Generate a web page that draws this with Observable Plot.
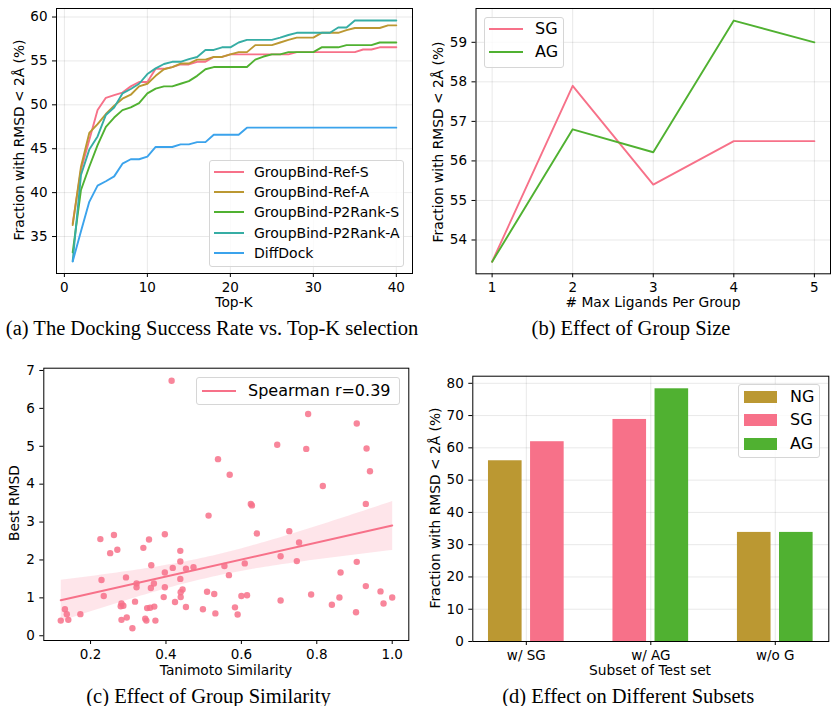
<!DOCTYPE html>
<html><head><meta charset="utf-8">
<script src="https://cdn.jsdelivr.net/npm/d3@7"></script>
<script src="https://cdn.jsdelivr.net/npm/@observablehq/plot@0.6"></script>
<style>
body{margin:0;background:#fff;}
#fig{position:relative;width:831px;height:706px;overflow:hidden;font-family:"DejaVu Sans",sans-serif;color:#000;background:#fff;}
.abs{position:absolute;white-space:nowrap;line-height:1;}
.cap{font-family:"Liberation Serif",serif;font-size:20.5px;}
.lab{font-size:13.8px;}
.leg{position:absolute;border:1px solid #d6d6d6;border-radius:3px;background:rgba(255,255,255,0.8);box-sizing:border-box;}
</style></head><body><div id="fig"></div>
<script>
// ---------- data: panel (a) ----------
const topK = [1,2,3,4,5,6,7,8,9,10,11,12,13,14,15,16,17,18,19,20,21,22,23,24,25,26,27,28,29,30,31,32,33,34,35,36,37,38,39,40];
const seriesNames = ["GroupBind-Ref-S","GroupBind-Ref-A","GroupBind-P2Rank-S","GroupBind-P2Rank-A","DiffDock"];
const seriesColors = ["#f77189","#bb9832","#50b131","#36ada4","#3ba3ec"];
const refS = [36.5,42.6,46.0,49.4,50.8,51.1,51.4,52.1,52.6,52.6,54.1,54.1,54.3,54.6,54.6,54.9,54.9,55.45,55.45,55.75,55.75,55.75,55.75,55.75,55.75,55.75,55.75,56.0,56.0,56.0,56.0,56.0,56.0,56.0,56.0,56.3,56.3,56.55,56.55,56.55];
const refA = [36.3,42.95,46.8,47.8,48.95,49.9,50.7,51.15,52.1,52.4,53.3,54.05,54.3,54.7,54.7,55.15,55.15,55.45,55.45,55.75,56.0,56.0,56.8,56.8,56.8,57.1,57.4,57.65,57.65,57.65,58.2,58.2,58.2,58.5,58.75,58.75,58.75,58.75,59.05,59.05];
const p2rankS = [33.2,40.3,42.95,45.4,47.5,48.55,49.4,49.7,50.2,51.3,51.85,52.1,52.1,52.4,52.7,53.3,54.05,54.3,54.3,54.3,54.3,54.3,55.15,55.5,55.75,55.75,56.0,56.0,56.0,56.0,56.55,56.55,56.55,56.8,56.8,56.8,56.8,57.1,57.1,57.1];
const p2rankA = [32.2,42.0,44.9,46.4,48.85,49.7,51.3,51.8,52.4,53.5,54.15,54.65,54.9,54.9,55.2,55.45,56.25,56.25,56.55,56.55,57.1,57.4,57.4,57.4,57.4,57.65,57.95,58.2,58.2,58.2,58.2,58.2,58.8,58.8,59.6,59.6,59.6,59.6,59.6,59.6];
const diffDock = [32.16,35.6,38.95,40.8,41.3,41.85,43.3,43.8,43.8,44.1,45.2,45.2,45.2,45.5,45.5,45.75,45.75,46.6,46.6,46.6,46.6,47.4,47.4,47.4,47.4,47.4,47.4,47.4,47.4,47.4,47.4,47.4,47.4,47.4,47.4,47.4,47.4,47.4,47.4,47.4];
const aXTicks = [0,10,20,30,40];
const aYTicks = [35,40,45,50,55,60];

// ---------- data: panel (b) ----------
const groupSizes = [1,2,3,4,5];
const sgValues = [53.45,57.9,55.4,56.5,56.5];
const agValues = [53.45,56.8,56.22,59.55,59.0];
const bYTicks = [54,55,56,57,58,59];

// ---------- data: panel (c) ----------
const tanimoto = [0.415,0.777,0.906,0.695,0.772,0.932,0.538,0.941,0.569,0.816,0.625,0.628,0.930,0.513,0.641,0.727,0.753,0.226,0.262,0.252,0.271,0.340,0.355,0.397,0.438,0.438,0.361,0.397,0.418,0.453,0.473,0.438,0.555,0.567,0.609,0.704,0.747,0.906,0.863,0.229,0.235,0.294,0.322,0.322,0.368,0.360,0.397,0.444,0.439,0.439,0.394,0.424,0.453,0.318,0.282,0.280,0.287,0.350,0.358,0.369,0.132,0.137,0.141,0.121,0.173,0.282,0.296,0.311,0.345,0.348,0.372,0.509,0.528,0.498,0.531,0.583,0.590,0.600,0.615,0.704,0.785,0.840,0.860,0.904,0.930,0.969,0.977,1.000];
const bestRmsd = [6.73,5.85,5.60,5.04,4.93,4.94,4.66,4.34,4.25,3.95,3.48,3.44,3.48,3.17,2.70,2.76,2.46,2.55,2.66,2.18,2.27,2.32,2.54,2.68,2.24,1.96,1.86,1.67,1.79,1.77,1.81,1.50,1.84,1.60,1.91,2.10,1.97,1.95,1.67,1.47,1.05,1.54,1.38,1.28,1.38,1.26,1.28,1.22,1.15,1.02,1.02,0.89,0.76,0.90,0.85,0.78,0.79,0.73,0.74,0.77,0.70,0.57,0.42,0.40,0.57,0.42,0.48,0.20,0.45,0.40,0.40,1.16,1.10,0.70,0.59,0.75,0.56,1.05,1.07,0.93,1.09,0.82,1.01,0.62,1.31,1.17,0.85,1.01];
const cXTicks = [0.2,0.4,0.6,0.8,1.0];
const cYTicks = [0,1,2,3,4,5,6,7];

// ---------- data: panel (d) ----------
const subsets = ["w/ SG","w/ AG","w/o G"];
const subsetHues = [["NG","SG"],["SG","AG"],["NG","AG"]];
const subsetValues = [[56.0,61.9],[68.8,78.3],[33.8,33.8]];
const hueNames = ["NG","SG","AG"];
const hueColors = ["#bb9832","#f77189","#50b131"];
const dYTicks = [0,10,20,30,40,50,60,70,80];

// ---------- helpers ----------
const fig = document.getElementById("fig");
const TICK_FS = 13.5;
const baseStyle = {fontFamily:"DejaVu Sans", fontSize:TICK_FS+"px", background:"transparent", overflow:"visible", color:"black"};
const gridStyle = {stroke:"#000", strokeOpacity:0.09, strokeWidth:1};
const intFmt = d => String(d);
function mount(svg, x, y){ svg.style.position="absolute"; svg.style.left=x+"px"; svg.style.top=y+"px"; fig.appendChild(svg); }
function label(str, cx, cy, cls, rot){
  const d=document.createElement("div"); d.className="abs "+cls; d.textContent=str;
  d.style.left=cx+"px"; d.style.top=cy+"px";
  d.style.transform="translate(-50%,-50%)"+(rot?" rotate(-90deg)":"");
  fig.appendChild(d);
}
function legend(box, items, opts){
  const b=document.createElement("div"); b.className="leg";
  Object.assign(b.style,{left:box[0]+"px",top:box[1]+"px",width:(box[2]-box[0])+"px",height:(box[3]-box[1])+"px"});
  fig.appendChild(b);
  items.forEach((it,i)=>{
    const cy=opts.rows[i];
    const h=document.createElement("div");
    const hh = opts.patch ? 12 : 2;
    Object.assign(h.style,{position:"absolute",left:opts.hx[0]+"px",width:(opts.hx[1]-opts.hx[0])+"px",top:(cy-hh/2)+"px",height:hh+"px",background:it.color});
    fig.appendChild(h);
    const t=document.createElement("div"); t.className="abs"; t.textContent=it.name;
    Object.assign(t.style,{left:opts.tx+"px",top:cy+"px",fontSize:opts.fs+"px",transform:"translateY(-50%)"});
    fig.appendChild(t);
  });
}
const ax = (o) => Plot.axisX({tickSize:4, label:null, fontSize:TICK_FS, tickFormat:intFmt, ...o});
const ay = (o) => Plot.axisY({tickSize:4, label:null, fontSize:TICK_FS, tickFormat:intFmt, ...o});

// ---------- panel (a) ----------
const aRows = [];
[refS,refA,p2rankS,p2rankA,diffDock].forEach((arr,si)=>arr.forEach((v,i)=>aRows.push({k:topK[i], v, s:seriesNames[si]})));
mount(Plot.plot({
  width:415, height:315, marginLeft:56, marginRight:3, marginTop:8, marginBottom:42,
  style:baseStyle,
  x:{domain:[-0.95,41.95]}, y:{domain:[30.79,60.97]},
  color:{domain:seriesNames, range:seriesColors},
  marks:[
    Plot.gridX({ticks:aXTicks, ...gridStyle}),
    Plot.gridY({ticks:aYTicks, ...gridStyle}),
    Plot.line(aRows,{x:"k", y:"v", z:"s", stroke:"s", strokeWidth:1.9}),
    ax({ticks:aXTicks}),
    ay({ticks:aYTicks}),
    Plot.frame({stroke:"black"})
  ]
}), 0, 0);
label("Top-K", 234, 303, "lab");
label("Fraction with RMSD < 2Å (%)", 20, 140, "lab", true);
label("(a) The Docking Success Rate vs. Top-K selection", 212, 328, "cap");
legend([209,160,404,267], seriesNames.map((n,i)=>({name:n,color:seriesColors[i]})), {rows:[171.7,192,212.3,232.7,253.3], hx:[214,244], tx:254, fs:14});

// ---------- panel (b) ----------
const bRows = [];
groupSizes.forEach((g,i)=>bRows.push({g, v:sgValues[i], s:"SG"}));
groupSizes.forEach((g,i)=>bRows.push({g, v:agValues[i], s:"AG"}));
mount(Plot.plot({
  width:416, height:315, marginLeft:60.5, marginRight:1, marginTop:8, marginBottom:41.7,
  style:baseStyle,
  x:{domain:[0.8,5.2]}, y:{domain:[53.145,59.855]},
  color:{domain:["SG","AG"], range:["#f77189","#50b131"]},
  marks:[
    Plot.gridX({ticks:groupSizes, ...gridStyle}),
    Plot.gridY({ticks:bYTicks, ...gridStyle}),
    Plot.line(bRows,{x:"g", y:"v", z:"s", stroke:"s", strokeWidth:1.9}),
    ax({ticks:groupSizes}),
    ay({ticks:bYTicks}),
    Plot.frame({stroke:"black"})
  ]
}), 415, 0);
label("# Max Ligands Per Group", 653, 303, "lab");
label("Fraction with RMSD < 2Å (%)", 439, 142, "lab", true);
label("(b) Effect of Group Size", 631, 328, "cap");
legend([484,16.7,564,67.7], [{name:"SG",color:"#f77189"},{name:"AG",color:"#50b131"}], {rows:[29.3,52.3], hx:[489,523], tx:535, fs:16});

// ---------- panel (c) ----------
const cRows = tanimoto.map((x,i)=>({x, y:bestRmsd[i]}));
mount(Plot.plot({
  width:415, height:366, marginLeft:43.3, marginRight:6.7, marginTop:27.7, marginBottom:66,
  style:baseStyle,
  x:{domain:[0.076,1.044]}, y:{domain:[-0.125,7.06]},
  marks:[
    Plot.dot(cRows,{x:"x", y:"y", r:3.2, fill:"#f77189", fillOpacity:0.85, stroke:"none"}),
    Plot.linearRegressionY(cRows,{x:"x", y:"y", stroke:"#f77189", fill:"#f77189", fillOpacity:0.18, strokeWidth:2, ci:0.95}),
    ax({ticks:cXTicks, tickFormat:d=>d.toFixed(1)}),
    ay({ticks:cYTicks}),
    Plot.frame({stroke:"black"})
  ]
}), 0, 340);
label("Tanimoto Similarity", 226, 671, "lab");
label("Best RMSD", 15, 503, "lab", true);
label("(c) Effect of Group Similarity", 208.5, 696, "cap");
legend([195.7,376.7,400,405], [{name:"Spearman r=0.39",color:"#f77189"}], {rows:[390.5], hx:[201.7,235.7], tx:248, fs:16});

// ---------- panel (d) ----------
const dRows = [];
const barW = 0.27, barOff = 0.169;
subsets.forEach((s,i)=>subsetHues[i].forEach((h,j)=>{
  const c = i + (j===0 ? -barOff : barOff);
  dRows.push({x1:c-barW/2, x2:c+barW/2, v:subsetValues[i][j], h});
}));
mount(Plot.plot({
  width:416, height:366, marginLeft:57.3, marginRight:2.7, marginTop:35.7, marginBottom:65,
  style:baseStyle,
  x:{domain:[-0.43,2.43]}, y:{domain:[0,82.2]},
  color:{domain:hueNames, range:hueColors},
  marks:[
    Plot.gridX({ticks:[0,1,2], ...gridStyle}),
    Plot.gridY({ticks:dYTicks, ...gridStyle}),
    Plot.rectY(dRows,{x1:"x1", x2:"x2", y1:0, y2:"v", fill:"h"}),
    ax({ticks:[0,1,2], tickFormat:i=>subsets[i]}),
    ay({ticks:dYTicks}),
    Plot.frame({stroke:"black"})
  ]
}), 415, 340);
label("Subset of Test set", 650, 671, "lab");
label("Fraction with RMSD < 2Å (%)", 435.7, 508, "lab", true);
label("(d) Effect on Different Subsets", 628.3, 696, "cap");
legend([738.3,384,820,458.3], hueNames.map((n,i)=>({name:n,color:hueColors[i]})), {rows:[397,420.3,444], hx:[744.3,777.3], tx:790, fs:16, patch:true});
</script></body></html>
